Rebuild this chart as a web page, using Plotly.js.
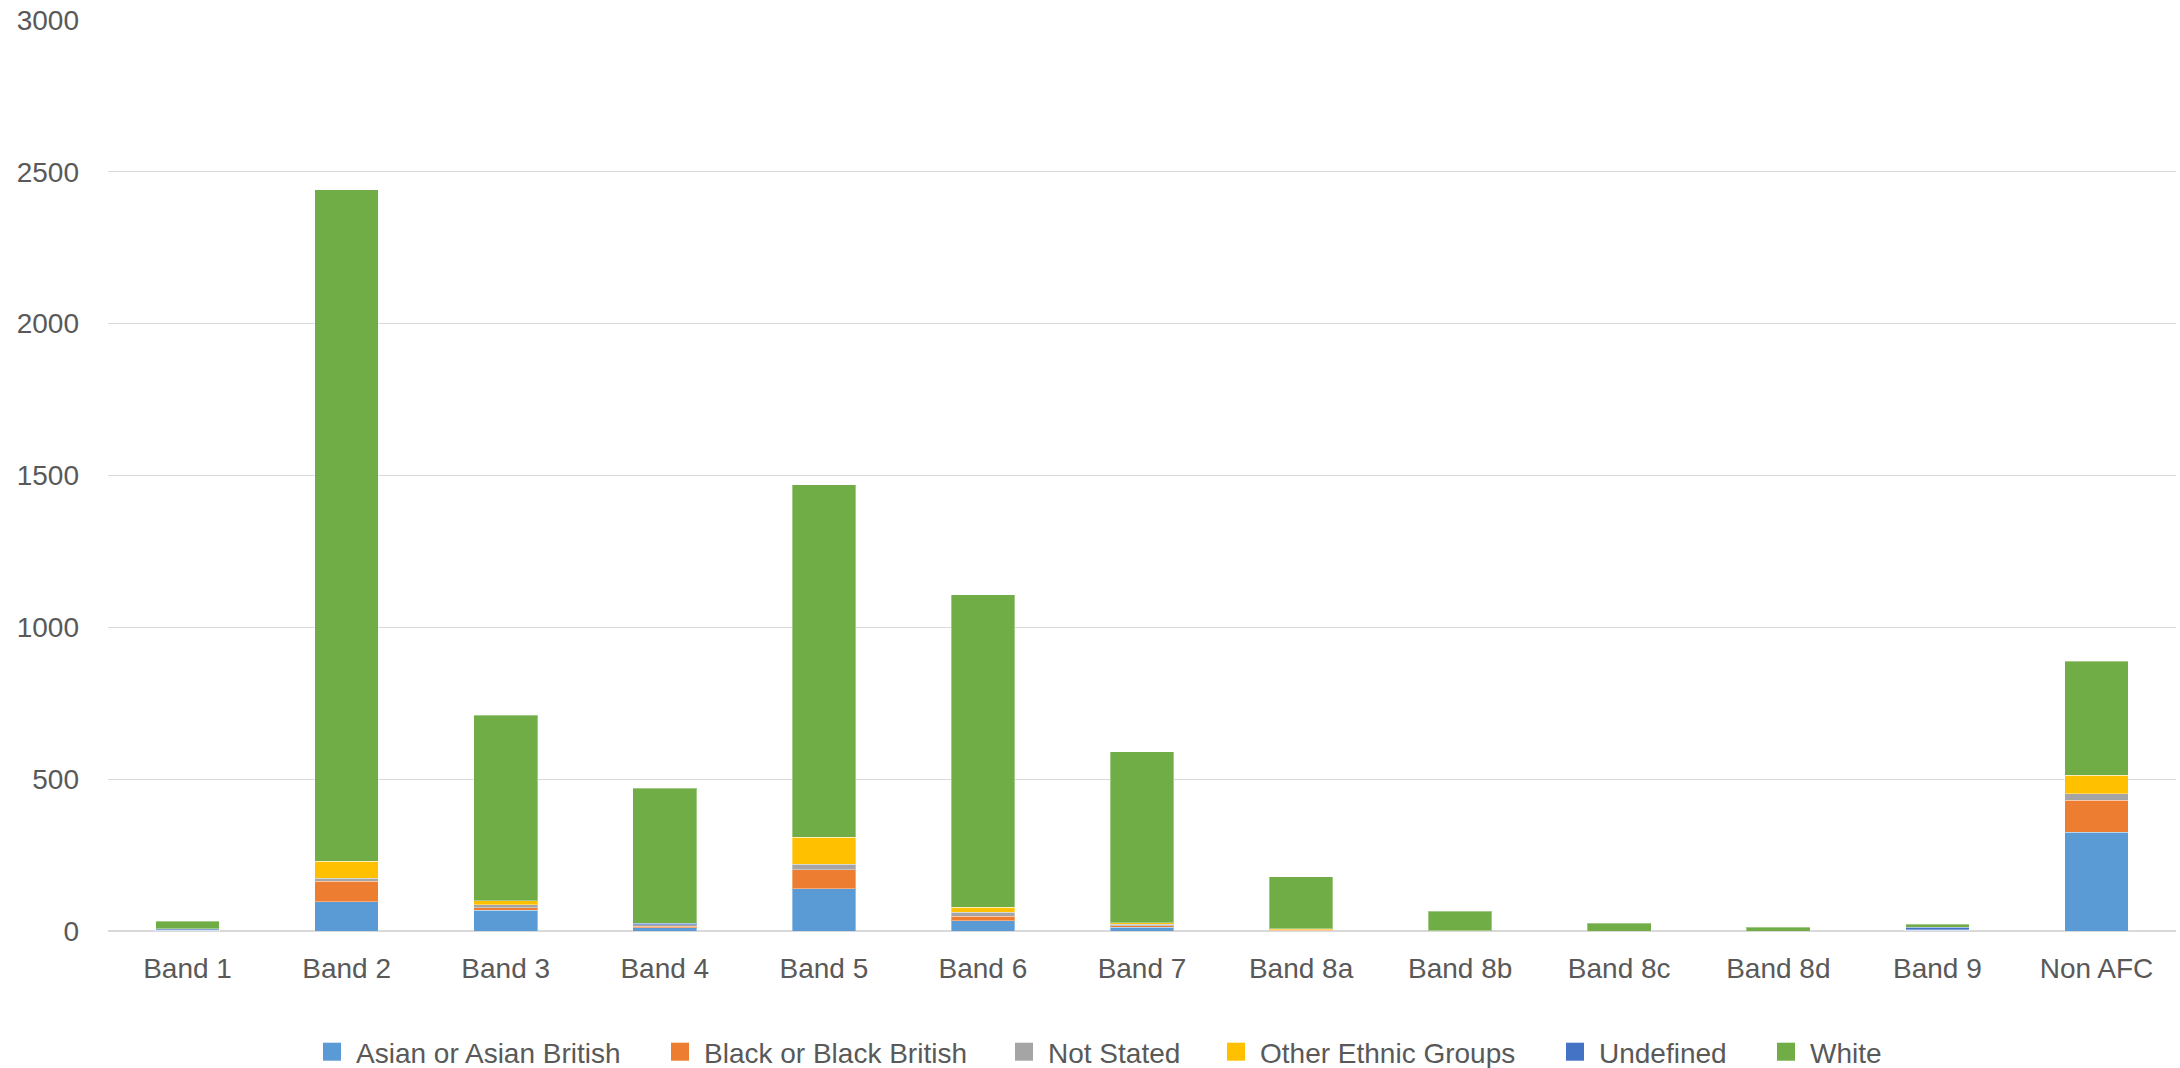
<!DOCTYPE html>
<html>
<head>
<meta charset="utf-8">
<script src="https://cdn.plot.ly/plotly-3.0.1.min.js"></script>
<style>html,body{margin:0;padding:0;background:#fff;}#chart{width:2180px;height:1068px;}</style>
</head>
<body>
<div id="chart"></div>
<script>
const categories = ["Band 1","Band 2","Band 3","Band 4","Band 5","Band 6","Band 7","Band 8a","Band 8b","Band 8c","Band 8d","Band 9","Non AFC"];
const asian     = [3, 96, 69, 10, 139, 33, 12, 1, 0, 0, 0, 3, 325];
const black     = [0, 68, 7, 6, 63, 16, 5, 2, 0, 0, 0, 0, 105];
const notStated = [1, 10, 10, 4, 18, 13, 5, 1, 1, 0, 0, 1, 22];
const other     = [0, 55, 13, 1, 88, 16, 6, 3, 0, 0, 0, 0, 61];
const undefinedV= [4, 1, 0, 4, 0, 0, 0, 0, 0, 0, 0, 9, 0];
const white     = [24, 2211, 611, 445, 1162, 1030, 563, 172, 64, 25, 12, 9, 376];
const seriesNames = ["Asian or Asian British","Black or Black British","Not Stated","Other Ethnic Groups","Undefined","White"];
const seriesColors = ["#5B9BD5","#ED7D31","#A5A5A5","#FFC000","#4472C4","#70AD47"];
const seriesValues = [asian, black, notStated, other, undefinedV, white];

const legendIds = ["legend","legend2","legend3","legend4","legend5","legend6"];
const legendLeftPx = [324, 672, 1016, 1228, 1567, 1778];

const traces = seriesValues.map((vals, i) => ({
  type: "bar",
  name: seriesNames[i],
  x: categories,
  y: vals,
  legend: legendIds[i],
  marker: {color: seriesColors[i], line: {color: "rgba(255,255,255,0.35)", width: 1}},
  hoverinfo: "x+y+name"
}));

const font = {family: "Liberation Sans, Arial, sans-serif", size: 28, color: "#595959"};
const plotL = 108, plotW = 2180 - 108 - 4;
const layout = {
  width: 2180, height: 1068,
  barmode: "stack",
  bargap: 0.6,
  paper_bgcolor: "#fff", plot_bgcolor: "#fff",
  font: font,
  margin: {l: 108, r: 4, t: 20, b: 137, autoexpand: false},
  showlegend: true,
  xaxis: {type: "category", showgrid: false, zeroline: false, showline: false, ticks: "", ticklabelstandoff: 18, tickfont: font},
  yaxis: {range: [0, 3000], dtick: 500, showgrid: true, gridcolor: "#D9D9D9", gridwidth: 1.3, zeroline: true, zerolinecolor: "#D9D9D9", zerolinewidth: 2, showline: false, ticks: "", ticklabelstandoff: 28, tickfont: font}
};
legendIds.forEach((id, i) => {
  layout[id] = {
    orientation: "h", xref: "paper", yref: "container",
    x: (legendLeftPx[i] - 8 - plotL) / plotW, xanchor: "left",
    y: 1 - 1052 / 1068, yanchor: "middle",
    font: font, bgcolor: "rgba(0,0,0,0)", borderwidth: 0
  };
});
Plotly.newPlot("chart", traces, layout, {displayModeBar: false, staticPlot: true}).then(() => {
  document.querySelectorAll(".legendpoints path").forEach(p => {
    p.removeAttribute("transform");
    p.setAttribute("d", "M25,9H7V-9H25Z");
    p.style.strokeWidth = "0px";
  });
});
</script>
</body>
</html>
